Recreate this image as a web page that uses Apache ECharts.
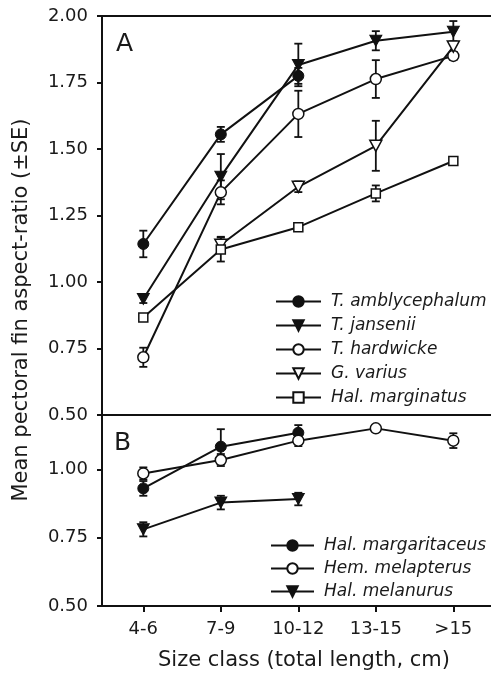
<!DOCTYPE html>
<html>
<head>
<meta charset="utf-8">
<script src="https://cdn.jsdelivr.net/npm/echarts@6/dist/echarts.min.js"></script>
<style>
  html, body { margin: 0; padding: 0; background: #fff; }
  #chart { width: 491px; height: 681px; }
</style>
</head>
<body>
<div id="chart"></div>
<script>
  // size classes (x axis)
  const categories = ['4-6', '7-9', '10-12', '13-15', '>15'];

  // panel A: means and SE per size class (null = not sampled)
  const amblyMean = [1.143, 1.555, 1.775, null, null];
  const amblySE = [0.05, 0.028, 0.03, null, null];
  const jansMean = [0.936, 1.396, 1.816, 1.907, 1.941];
  const jansSE = [0.015, 0.085, 0.08, 0.036, 0.04];
  const hardMean = [0.717, 1.337, 1.632, 1.763, 1.85];
  const hardSE = [0.036, 0.045, 0.087, 0.071, 0.015];
  const variusMean = [null, 1.14, 1.358, 1.512, 1.885];
  const variusSE = [null, 0.03, 0.02, 0.094, 0.02];
  const margMean = [0.867, 1.122, 1.206, 1.333, 1.455];
  const margSE = [0, 0.045, 0, 0.03, 0];

  // panel B
  const margaritMean = [0.931, 1.084, 1.135, null, null];
  const margaritSE = [0.027, 0.064, 0.028, null, null];
  const melapMean = [0.986, 1.035, 1.106, 1.151, 1.106];
  const melapSE = [0.022, 0.022, 0.02, 0.01, 0.027];
  const melanMean = [0.781, 0.879, 0.892, null, null];
  const melanSE = [0.026, 0.025, 0.023, null, null];

  const yTicksA = [0.5, 0.75, 1.0, 1.25, 1.5, 1.75, 2.0];
  const yTicksB = [0.5, 0.75, 1.0];
  const xTicks = [0, 1, 2, 3, 4];

  const INK = '#111';
  const FONT = 'DejaVu Sans';
  const downTri = 'path://M0,0L12,0L6,11Z';

  const pairs = (arr) => arr.map((v, i) => (v == null ? null : [i, v])).filter(Boolean);

  function lineSeries(name, means, symbol, size, open, xi, yi) {
    return {
      name: name,
      type: 'line',
      xAxisIndex: xi,
      yAxisIndex: yi,
      data: pairs(means),
      symbol: symbol,
      symbolSize: size,
      showAllSymbol: true,
      z: 3,
      lineStyle: { color: INK, width: 2 },
      itemStyle: open
        ? { color: '#fff', borderColor: INK, borderWidth: 1.5 }
        : { color: INK, borderColor: INK, borderWidth: 1 },
      emphasis: { disabled: true },
    };
  }

  function errorSeries(means, ses, xi, yi) {
    const data = [];
    means.forEach((m, i) => {
      if (m != null && ses[i]) data.push([i, m - ses[i], m + ses[i]]);
    });
    return {
      type: 'custom',
      xAxisIndex: xi,
      yAxisIndex: yi,
      data: data,
      z: 1,
      silent: true,
      encode: { x: 0, y: [1, 2] },
      renderItem(params, api) {
        const lo = api.coord([api.value(0), api.value(1)]);
        const hi = api.coord([api.value(0), api.value(2)]);
        const st = { stroke: INK, lineWidth: 1.8 };
        return {
          type: 'group',
          children: [
            { type: 'line', shape: { x1: lo[0], y1: lo[1], x2: hi[0], y2: hi[1] }, style: st },
            { type: 'line', shape: { x1: hi[0] - 4, y1: hi[1], x2: hi[0] + 4, y2: hi[1] }, style: st },
            { type: 'line', shape: { x1: lo[0] - 4, y1: lo[1], x2: lo[0] + 4, y2: lo[1] }, style: st },
          ],
        };
      },
    };
  }

  const axisLine = { show: true, onZero: false, lineStyle: { color: INK, width: 2 } };
  const tickLabel = { color: '#1a1a1a', fontFamily: FONT, fontSize: 18 };

  function xAxis(gridIndex, position, withLabels) {
    return {
      type: 'value',
      gridIndex: gridIndex,
      position: position,
      min: -0.533,
      max: 4.486,
      axisLine: axisLine,
      splitLine: { show: false },
      axisTick: withLabels
        ? { show: true, customValues: xTicks, length: 6, lineStyle: { color: INK, width: 2 } }
        : { show: false },
      axisLabel: withLabels
        ? Object.assign({ customValues: xTicks, margin: 14, formatter: (v) => categories[v] }, tickLabel)
        : { show: false },
    };
  }

  function yAxis(gridIndex, max, ticks) {
    return {
      type: 'value',
      gridIndex: gridIndex,
      min: 0.5,
      max: max,
      axisLine: axisLine,
      splitLine: { show: false },
      axisTick: { show: true, customValues: ticks, length: 5, lineStyle: { color: INK, width: 2 } },
      axisLabel: Object.assign(
        { customValues: ticks, margin: 14, formatter: (v) => v.toFixed(2) },
        tickLabel
      ),
    };
  }

  const legendText = { color: '#1a1a1a', fontFamily: FONT, fontSize: 17, fontStyle: 'italic', padding: [0, 0, 0, 5] };

  const chart = echarts.init(document.getElementById('chart'));
  chart.setOption({
    animation: false,
    backgroundColor: '#fff',
    grid: [
      { left: 102, right: 0, top: 16, height: 399 },
      { left: 102, right: 0, top: 415, height: 191 },
    ],
    xAxis: [xAxis(0, 'bottom', false), xAxis(0, 'top', false), xAxis(1, 'bottom', true)],
    yAxis: [yAxis(0, 2.0, yTicksA), yAxis(1, 1.2, yTicksB)],
    legend: [
      {
        data: ['T. amblycephalum', 'T. jansenii', 'T. hardwicke', 'G. varius', 'Hal. marginatus'],
        orient: 'vertical',
        left: 275,
        top: 293,
        padding: 0,
        itemWidth: 45,
        itemHeight: 13,
        itemGap: 7,
        selectedMode: false,
        textStyle: legendText,
      },
      {
        data: ['Hal. margaritaceus', 'Hem. melapterus', 'Hal. melanurus'],
        orient: 'vertical',
        left: 270,
        top: 537,
        padding: 0,
        itemWidth: 43,
        itemHeight: 13,
        itemGap: 6,
        selectedMode: false,
        textStyle: legendText,
      },
    ],
    graphic: [
      { type: 'text', left: 116, top: 32, style: { text: 'A', fontFamily: FONT, fontSize: 25, fill: '#1a1a1a' } },
      { type: 'text', left: 114, top: 431, style: { text: 'B', fontFamily: FONT, fontSize: 25, fill: '#1a1a1a' } },
      {
        type: 'text',
        x: 22,
        y: 310,
        rotation: Math.PI / 2,
        style: {
          text: 'Mean pectoral fin aspect-ratio (±SE)',
          fontFamily: FONT,
          fontSize: 21,
          fill: '#1a1a1a',
          align: 'center',
          verticalAlign: 'middle',
        },
      },
      {
        type: 'text',
        x: 304,
        y: 661,
        style: {
          text: 'Size class (total length, cm)',
          fontFamily: FONT,
          fontSize: 21,
          fill: '#1a1a1a',
          align: 'center',
          verticalAlign: 'middle',
        },
      },
    ],
    series: [
      errorSeries(amblyMean, amblySE, 0, 0),
      errorSeries(jansMean, jansSE, 0, 0),
      errorSeries(hardMean, hardSE, 0, 0),
      errorSeries(variusMean, variusSE, 0, 0),
      errorSeries(margMean, margSE, 0, 0),
      lineSeries('T. amblycephalum', amblyMean, 'circle', 11, false, 0, 0),
      lineSeries('T. jansenii', jansMean, downTri, [12, 11], false, 0, 0),
      lineSeries('T. hardwicke', hardMean, 'circle', 11, true, 0, 0),
      lineSeries('G. varius', variusMean, downTri, [12, 11], true, 0, 0),
      lineSeries('Hal. marginatus', margMean, 'rect', 9, true, 0, 0),

      errorSeries(margaritMean, margaritSE, 2, 1),
      errorSeries(melapMean, melapSE, 2, 1),
      errorSeries(melanMean, melanSE, 2, 1),
      lineSeries('Hal. margaritaceus', margaritMean, 'circle', 11, false, 2, 1),
      lineSeries('Hem. melapterus', melapMean, 'circle', 11, true, 2, 1),
      lineSeries('Hal. melanurus', melanMean, downTri, [12, 11], false, 2, 1),
    ],
  });
</script>
</body>
</html>
